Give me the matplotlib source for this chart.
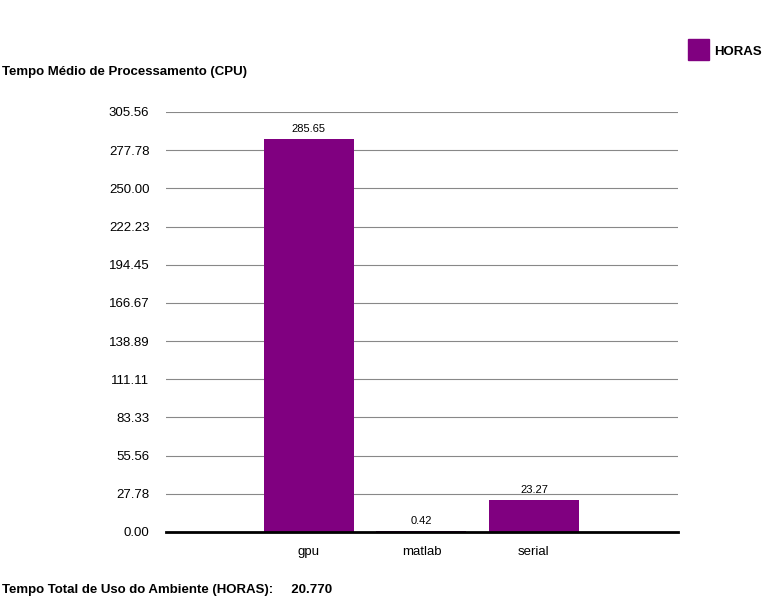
import matplotlib
matplotlib.use("Agg")
import matplotlib.pyplot as plt
from matplotlib.patches import Rectangle

categories = ["gpu", "matlab", "serial"]
values = [285.65, 0.42, 23.27]
ticks = [i * 305.56 / 11 for i in range(12)]
color = "#800080"

plt.rcParams['font.family'] = ['Liberation Sans', 'DejaVu Sans']
fig = plt.figure(figsize=(7.68, 6.0), dpi=100)
ax = fig.add_axes([166/768, 1-532/600, 512/768, 420/600])
x = list(range(len(categories)))
bars = ax.bar(x, values, width=0.8, color=color, zorder=3)
for xi, v in zip(x, values):
    ax.text(xi, v + 4, f"{v:.2f}", ha="center", va="bottom", fontsize=8)
ax.set_xlim(-1.27, 3.28)
ax.set_ylim(0, 305.56)
ax.set_yticks(ticks)
ax.set_yticklabels([f"{t:.2f}" for t in ticks], fontsize=9.5)
ax.set_xticks(x)
ax.set_xticklabels(categories, fontsize=9.5)
ax.tick_params(length=0, pad=12)
ax.tick_params(axis='x', pad=10)
ax.grid(axis='y', color='#888888', linewidth=0.8, zorder=0)
for s in ["top", "right", "left"]:
    ax.spines[s].set_visible(False)
ax.spines["bottom"].set_linewidth(2)
ax.spines["bottom"].set_zorder(4)

fig.text(2/768, 1-72/600, "Tempo Médio de Processamento (CPU)", fontsize=9.5, fontweight="bold", va="center")
fig.text(2/768, 1-590/600, "Tempo Total de Uso do Ambiente (HORAS):     20.770", fontsize=9.5, fontweight="bold", va="center")
fig.patches.append(Rectangle((688/768, 1-60/600), 21/768, 21/600, transform=fig.transFigure, color=color, figure=fig))
fig.text(714/768, 1-52/600, "HORAS", fontsize=9.5, fontweight="bold", va="center")
fig.savefig("out.png", dpi=100)
